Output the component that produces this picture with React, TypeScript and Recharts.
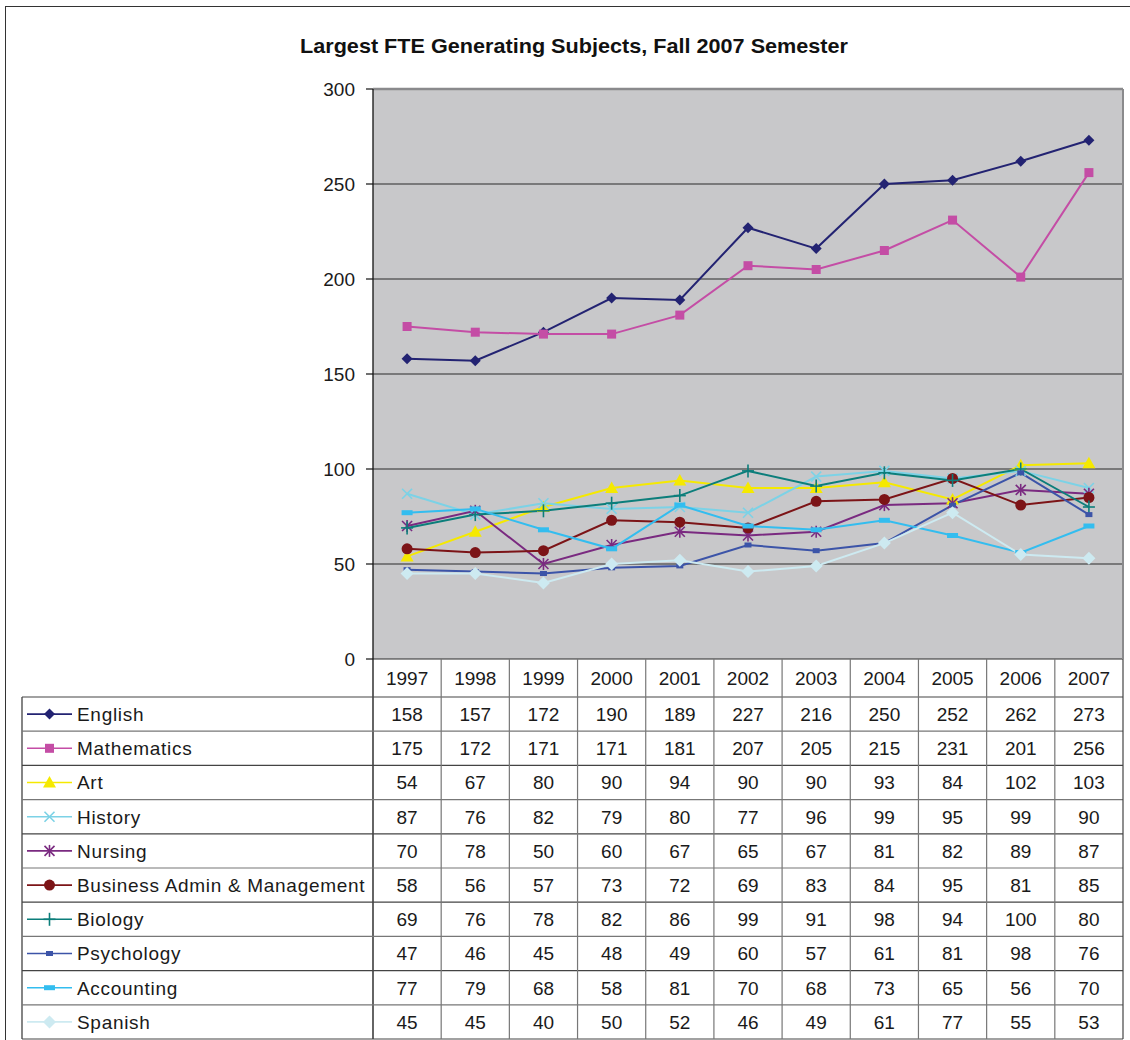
import React from 'react';
import { LineChart, Line, XAxis, YAxis, CartesianGrid, ReferenceLine } from 'recharts';

const years = ['1997', '1998', '1999', '2000', '2001', '2002', '2003', '2004', '2005', '2006', '2007'];
const english = [158, 157, 172, 190, 189, 227, 216, 250, 252, 262, 273];
const mathematics = [175, 172, 171, 171, 181, 207, 205, 215, 231, 201, 256];
const art = [54, 67, 80, 90, 94, 90, 90, 93, 84, 102, 103];
const history = [87, 76, 82, 79, 80, 77, 96, 99, 95, 99, 90];
const nursing = [70, 78, 50, 60, 67, 65, 67, 81, 82, 89, 87];
const business = [58, 56, 57, 73, 72, 69, 83, 84, 95, 81, 85];
const biology = [69, 76, 78, 82, 86, 99, 91, 98, 94, 100, 80];
const psychology = [47, 46, 45, 48, 49, 60, 57, 61, 81, 98, 76];
const accounting = [77, 79, 68, 58, 81, 70, 68, 73, 65, 56, 70];
const spanish = [45, 45, 40, 50, 52, 46, 49, 61, 77, 55, 53];
const yTicks = [0, 50, 100, 150, 200, 250, 300];
const title = 'Largest FTE Generating Subjects, Fall 2007 Semester';

type Shape = 'diamond' | 'square' | 'triangle' | 'x' | 'star' | 'circle' | 'plus' | 'dashS' | 'dashL' | 'diamondL';

const series: { name: string; values: number[]; color: string; shape: Shape }[] = [
  { name: 'English', values: english, color: '#232372', shape: 'diamond' },
  { name: 'Mathematics', values: mathematics, color: '#C44DA5', shape: 'square' },
  { name: 'Art', values: art, color: '#F5E900', shape: 'triangle' },
  { name: 'History', values: history, color: '#7CD2E6', shape: 'x' },
  { name: 'Nursing', values: nursing, color: '#7A2A80', shape: 'star' },
  { name: 'Business Admin & Management', values: business, color: '#7C1417', shape: 'circle' },
  { name: 'Biology', values: biology, color: '#0C7E7B', shape: 'plus' },
  { name: 'Psychology', values: psychology, color: '#3C54A8', shape: 'dashS' },
  { name: 'Accounting', values: accounting, color: '#33BDEF', shape: 'dashL' },
  { name: 'Spanish', values: spanish, color: '#CDEAF1', shape: 'diamondL' },
];

const data = years.map((year, i) => {
  const row: Record<string, any> = { year };
  series.forEach((s) => {
    row[s.name] = s.values[i];
  });
  return row;
});

const FONT = '"Liberation Sans", Arial, sans-serif';
const PLOT_TOP = 89;
const PLOT_BOTTOM = 659;
const TABLE_LEFT = 22;
const TABLE_RIGHT = 1123;
const HEADER_BOTTOM = 697;
const ROW_H = 34.2;
const STEP = 750 / 11;

function marker(shape: Shape, color: string, cx: number, cy: number) {
  switch (shape) {
    case 'diamond':
      return <polygon points={`${cx},${cy - 5.5} ${cx + 5.5},${cy} ${cx},${cy + 5.5} ${cx - 5.5},${cy}`} fill={color} />;
    case 'diamondL':
      return <polygon points={`${cx},${cy - 6.5} ${cx + 6.5},${cy} ${cx},${cy + 6.5} ${cx - 6.5},${cy}`} fill={color} />;
    case 'square':
      return <rect x={cx - 4.5} y={cy - 4.5} width={9} height={9} fill={color} />;
    case 'triangle':
      return <polygon points={`${cx},${cy - 6.5} ${cx + 6.5},${cy + 5} ${cx - 6.5},${cy + 5}`} fill={color} />;
    case 'x':
      return (
        <g stroke={color} strokeWidth={1.6}>
          <line x1={cx - 5} y1={cy - 5} x2={cx + 5} y2={cy + 5} />
          <line x1={cx - 5} y1={cy + 5} x2={cx + 5} y2={cy - 5} />
        </g>
      );
    case 'star':
      return (
        <g stroke={color} strokeWidth={1.6}>
          <line x1={cx - 5} y1={cy - 5} x2={cx + 5} y2={cy + 5} />
          <line x1={cx - 5} y1={cy + 5} x2={cx + 5} y2={cy - 5} />
          <line x1={cx} y1={cy - 6} x2={cx} y2={cy + 6} />
        </g>
      );
    case 'circle':
      return <circle cx={cx} cy={cy} r={5.5} fill={color} />;
    case 'plus':
      return (
        <g stroke={color} strokeWidth={1.6}>
          <line x1={cx - 6} y1={cy} x2={cx + 6} y2={cy} />
          <line x1={cx} y1={cy - 6.5} x2={cx} y2={cy + 6.5} />
        </g>
      );
    case 'dashS':
      return <rect x={cx - 3.5} y={cy - 2.5} width={7} height={5} fill={color} />;
    case 'dashL':
      return <rect x={cx - 5.5} y={cy - 2.5} width={11} height={5} fill={color} />;
  }
  return null;
}

function TableColumn(props: any) {
  const { x, payload, index } = props;
  const left = x - STEP / 2;
  const right = x + STEP / 2;
  const colIdx = years.indexOf(String(payload.value));
  return (
    <g>
      {index === 0 && (
        <g>
          <line x1={TABLE_LEFT} y1={HEADER_BOTTOM} x2={TABLE_LEFT} y2={HEADER_BOTTOM + ROW_H * 10} stroke="#333" strokeWidth={1.2} />
          <line x1={left} y1={PLOT_TOP} x2={left} y2={HEADER_BOTTOM + ROW_H * 10} stroke="#111" strokeWidth={1.3} />
          {Array.from({ length: 11 }).map((_, k) => (
            <line
              key={`h${k}`}
              x1={TABLE_LEFT}
              y1={HEADER_BOTTOM + ROW_H * k}
              x2={TABLE_RIGHT}
              y2={HEADER_BOTTOM + ROW_H * k}
              stroke={k % 2 === 0 ? '#444' : '#777'}
              strokeWidth={1.2}
            />
          ))}
          {series.map((s, k) => {
            const cy = HEADER_BOTTOM + ROW_H * k + ROW_H / 2;
            return (
              <g key={`lg${k}`}>
                <line x1={27} y1={cy} x2={72} y2={cy} stroke={s.color} strokeWidth={1.6} />
                {marker(s.shape, s.color, 49.5, cy)}
                <text x={77} y={cy} dy="0.36em" fontSize={19} letterSpacing={0.7} fontFamily={FONT} fill="#1a1a1a" textAnchor="start">
                  {s.name}
                </text>
              </g>
            );
          })}
        </g>
      )}
      <line x1={right} y1={PLOT_BOTTOM} x2={right} y2={HEADER_BOTTOM + ROW_H * 10} stroke={index === 10 ? '#444' : '#777'} strokeWidth={1.2} />
      {index === 10 && <line x1={right} y1={PLOT_TOP} x2={right} y2={PLOT_BOTTOM} stroke="#8a8a8c" strokeWidth={2} />}
      <text x={x} y={(PLOT_BOTTOM + HEADER_BOTTOM) / 2} dy="0.36em" textAnchor="middle" fontSize={19} fontFamily={FONT} fill="#1a1a1a">
        {payload.value}
      </text>
      {series.map((s, k) => (
        <text
          key={`v${k}`}
          x={x}
          y={HEADER_BOTTOM + ROW_H * k + ROW_H / 2}
          dy="0.36em"
          textAnchor="middle"
          fontSize={19}
          fontFamily={FONT}
          fill="#1a1a1a"
        >
          {s.values[colIdx]}
        </text>
      ))}
    </g>
  );
}

export default function App() {
  return (
    <div style={{ position: 'absolute', left: 0, top: 0, width: 1130, height: 1040, overflow: 'hidden', background: '#fff' }}>
      <div style={{ position: 'absolute', left: 5, top: 6, width: 1140, height: 1050, border: '1.5px solid #333', boxSizing: 'border-box' }} />
      <div style={{ position: 'absolute', left: 0, top: 0 }}>
        <LineChart width={1130} height={1040} data={data} margin={{ top: PLOT_TOP, right: 7, left: 313, bottom: 0 }}>
          <text
            x={574}
            y={45}
            dy="0.36em"
            textAnchor="middle"
            fontSize={21}
            fontWeight="bold"
            fontFamily={FONT}
            fill="#111"
            textLength={548}
            lengthAdjust="spacingAndGlyphs"
          >
            {title}
          </text>
          <CartesianGrid vertical={false} fill="#C8C8CA" stroke="#2a2a2a" strokeWidth={1} />
          <XAxis
            dataKey="year"
            height={381}
            interval={0}
            axisLine={false}
            tickLine={false}
            padding={{ left: STEP / 2, right: STEP / 2 }}
            tick={(p: any) => <TableColumn {...p} />}
          />
          <YAxis
            width={60}
            domain={[0, 300]}
            ticks={yTicks}
            interval={0}
            axisLine={false}
            tickLine={{ stroke: '#111', strokeWidth: 1.2 }}
            tickSize={7}
            tickMargin={11}
            tick={{ fontSize: 19, fontFamily: FONT, fill: '#1a1a1a' }}
          />
          <ReferenceLine y={300} stroke="#8a8a8c" strokeWidth={2.5} />
          {series.map((s) => (
            <Line
              key={s.name}
              dataKey={s.name}
              stroke={s.color}
              strokeWidth={2}
              isAnimationActive={false}
              activeDot={false}
              dot={(p: any) => <g key={`${s.name}-${p.index}`}>{marker(s.shape, s.color, p.cx, p.cy)}</g>}
            />
          ))}
        </LineChart>
      </div>
    </div>
  );
}
